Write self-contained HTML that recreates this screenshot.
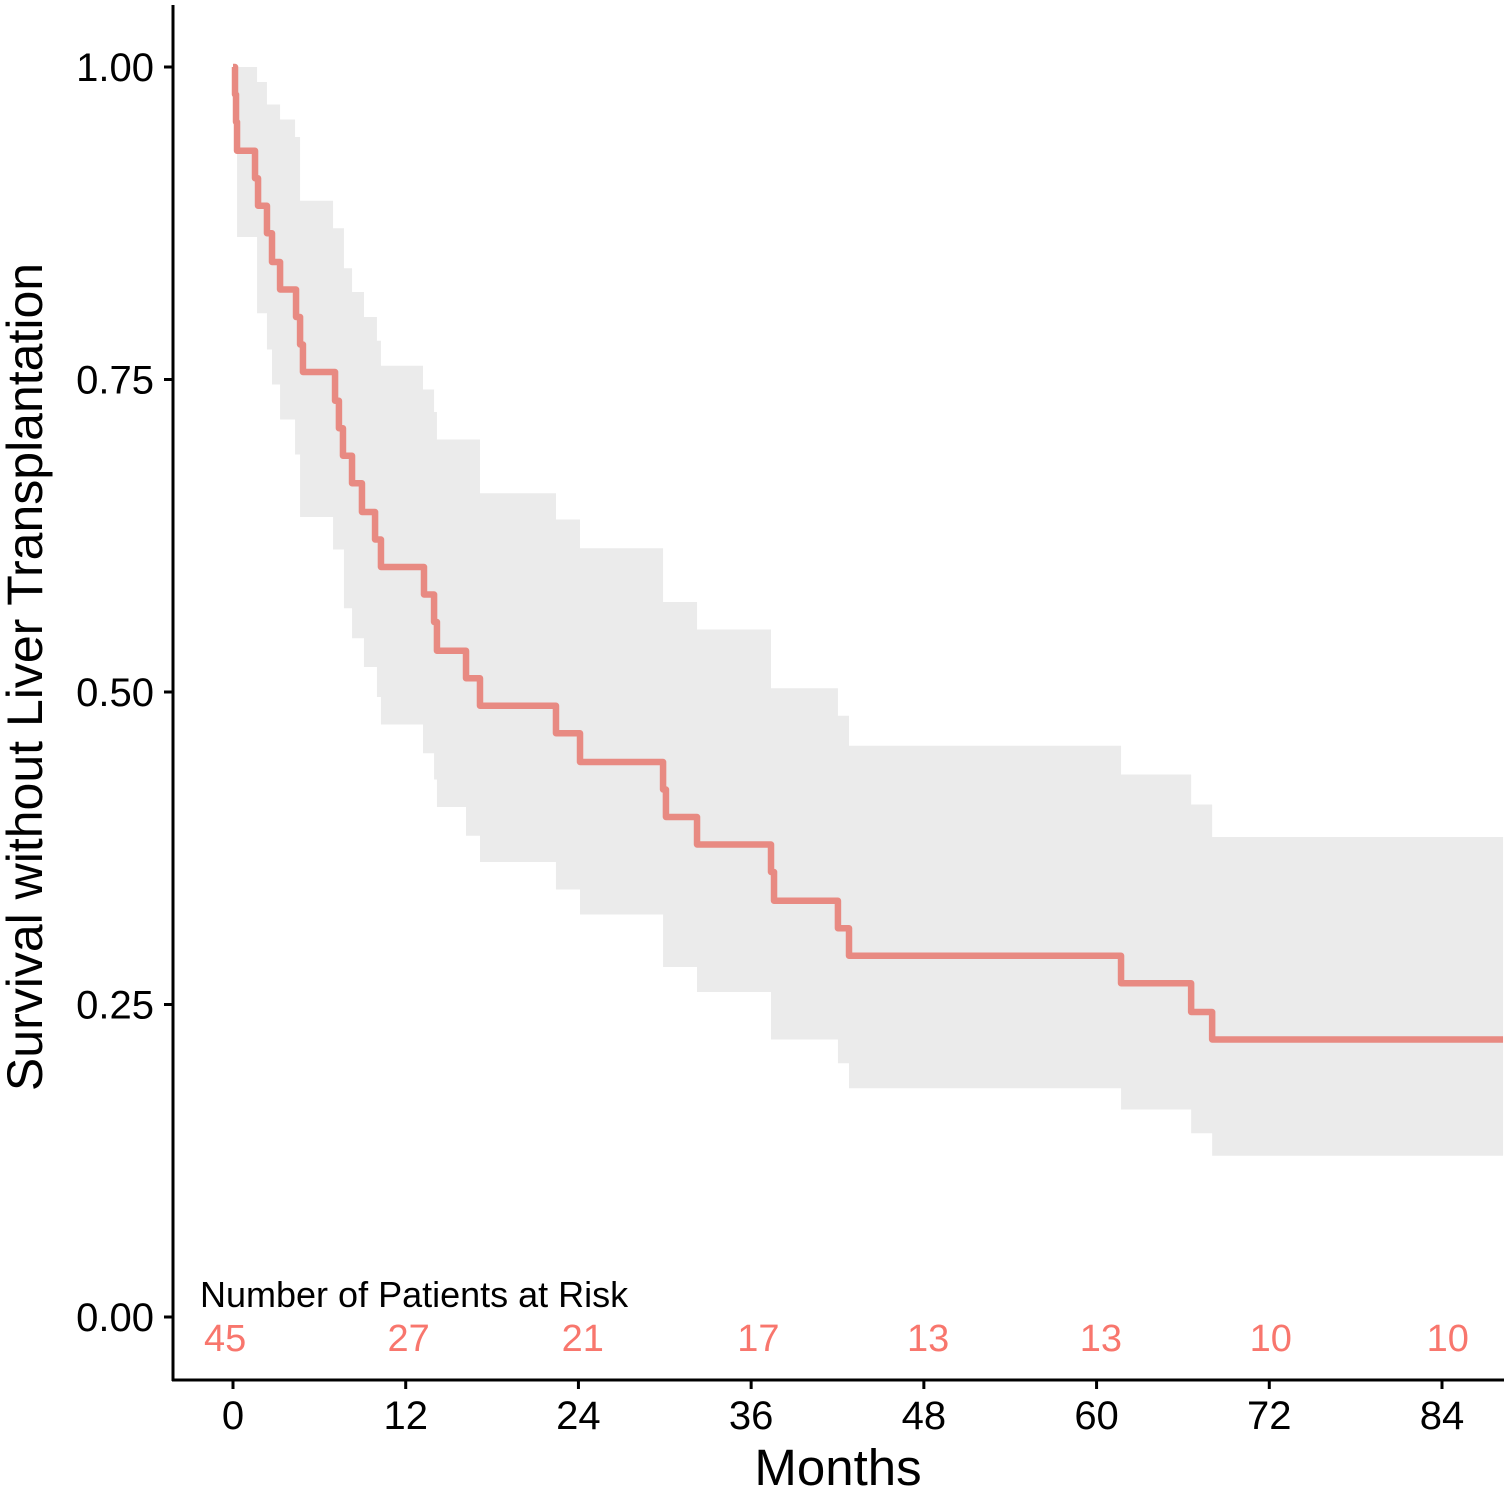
<!DOCTYPE html>
<html><head><meta charset="utf-8"><style>
html,body{margin:0;padding:0;background:#fff}
svg{display:block;font-family:"Liberation Sans",Arial,sans-serif}
</style></head><body>
<svg id="chart" width="1508" height="1490" viewBox="0 0 1508 1490">
<g id="band"></g>
<g id="curve"></g>
<g id="axes"></g>
<g id="risk"></g>
</svg>
<script>
const eventTimes=[0.14,0.21,0.28,1.53,1.74,2.36,2.71,3.27,4.38,4.66,4.86,7.09,7.36,7.64,8.27,8.96,9.87,10.28,13.27,13.97,14.17,16.19,17.16,22.44,24.11,29.88,30.08,32.24,37.38,37.59,42.03,42.80,61.70,66.57,68.03];
const survival=[0.978,0.956,0.933,0.911,0.889,0.867,0.844,0.822,0.8,0.778,0.756,0.733,0.711,0.689,0.667,0.644,0.622,0.6,0.578,0.556,0.533,0.511,0.489,0.467,0.444,0.422,0.4,0.378,0.356,0.333,0.311,0.289,0.267,0.244,0.222];
const bandTimes=[0.28,1.67,2.36,2.71,3.27,4.31,4.66,6.95,7.71,8.27,9.1,10.0,10.28,13.2,13.97,14.17,16.19,17.16,22.44,24.11,29.88,32.24,37.38,42.03,42.8,61.7,66.57,68.03];
const upper=[1,0.988,0.97,0.97,0.958,0.944,0.893,0.871,0.839,0.82,0.8,0.781,0.761,0.742,0.724,0.702,0.702,0.659,0.638,0.615,0.572,0.55,0.503,0.481,0.457,0.434,0.41,0.384];
const lower=[0.864,0.803,0.774,0.746,0.718,0.69,0.64,0.614,0.567,0.543,0.52,0.496,0.474,0.451,0.43,0.408,0.385,0.364,0.342,0.322,0.28,0.26,0.222,0.203,0.183,0.166,0.147,0.129];
const xTicks=[0,12,24,36,48,60,72,84];
const yTicks=[0,0.25,0.5,0.75,1];
const yTickLabels=["0.00","0.25","0.50","0.75","1.00"];
const riskTimes=[-0.55,12.2,24.3,36.5,48.3,60.3,72.1,84.4];
const riskCounts=[45,27,21,17,13,13,10,10];
const tMax=88.24;

const NS="http://www.w3.org/2000/svg";
const X=m=>233+m*(1442-233)/84;
const Y=v=>1317-v*1250;
function mk(tag,attrs,parent){const e=document.createElementNS(NS,tag);for(const k in attrs)e.setAttribute(k,attrs[k]);parent.appendChild(e);return e;}

const band=document.getElementById('band');
let up="",lo="";
for(let i=0;i<bandTimes.length;i++){
  const x0=X(bandTimes[i]),x1=X(i+1<bandTimes.length?bandTimes[i+1]:tMax);
  up+=(i?"L":"M")+x0+","+Y(upper[i])+"L"+x1+","+Y(upper[i]);
}
for(let i=bandTimes.length-1;i>=0;i--){
  const x0=X(bandTimes[i]),x1=X(i+1<bandTimes.length?bandTimes[i+1]:tMax);
  lo+="L"+x1+","+Y(lower[i])+"L"+x0+","+Y(lower[i]);
}
const bp=mk('path',{d:up+lo+"Z",fill:"#ebebeb"},band);



const curve=document.getElementById('curve');
let d="M"+X(0)+","+Y(1);let prev=1;
for(let i=0;i<eventTimes.length;i++){d+="L"+X(eventTimes[i])+","+Y(prev)+"L"+X(eventTimes[i])+","+Y(survival[i]);prev=survival[i];}
d+="L"+X(tMax)+","+Y(prev);
const cp=mk('path',{d:d,fill:"none",stroke:"#e88a82","stroke-width":6.5,"stroke-linejoin":"round"},curve);



const ax=document.getElementById('axes');
mk('line',{x1:173,y1:5,x2:173,y2:1381,stroke:"#000","stroke-width":3},ax);
mk('line',{x1:172,y1:1380,x2:1504,y2:1380,stroke:"#000","stroke-width":3},ax);
yTicks.forEach((v,i)=>{
  mk('line',{x1:164,y1:Y(v),x2:173,y2:Y(v),stroke:"#000","stroke-width":3},ax);
  const t=mk('text',{x:154,y:Y(v)+14,"text-anchor":"end","font-size":40,fill:"#000"},ax);
  t.textContent=yTickLabels[i];
  
  
});
xTicks.forEach(m=>{
  mk('line',{x1:X(m),y1:1380,x2:X(m),y2:1389,stroke:"#000","stroke-width":3},ax);
  const t=mk('text',{x:X(m),y:1429,"text-anchor":"middle","font-size":40,fill:"#000"},ax);
  t.textContent=m;
  
  
});
const xt=mk('text',{x:838,y:1485,"text-anchor":"middle","font-size":51,fill:"#000"},ax);
xt.textContent="Months";


const yt=mk('text',{x:0,y:0,"text-anchor":"middle","font-size":50,fill:"#000",transform:"translate(42,677) rotate(-90)"},ax);
yt.textContent="Survival without Liver Transplantation";



const rk=document.getElementById('risk');
const rh=mk('text',{x:200,y:1307,"font-size":36,fill:"#000"},rk);
rh.textContent="Number of Patients at Risk";


riskTimes.forEach((m,i)=>{
  const t=mk('text',{x:X(m),y:1351,"text-anchor":"middle","font-size":38,fill:"#f8766d"},rk);
  t.textContent=riskCounts[i];
  
  
});
</script>
</body></html>
